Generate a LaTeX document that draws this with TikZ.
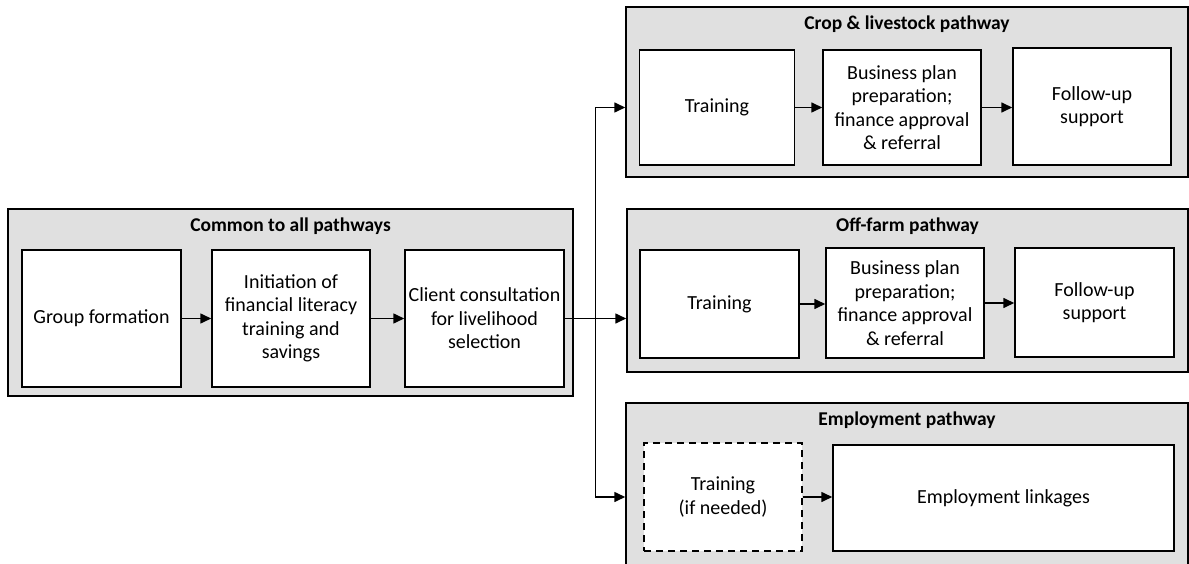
\documentclass[tikz,border=0pt]{standalone}
\usepackage{fontspec}
\setmainfont{Carlito}
\usetikzlibrary{arrows.meta, positioning, calc}

\begin{document}
\begin{tikzpicture}[x=1pt, y=-1pt,
    pathway/.style={draw, line width=1.5pt, fill=black!12, inner sep=0pt},
    stage/.style={draw, line width=1.5pt, fill=white, align=center, inner sep=1pt, font=\fontsize{20}{23.5}\selectfont},
    optional/.style={stage, dash pattern=on 7pt off 5pt},
    heading/.style={font=\fontsize{19.5}{23.5}\selectfont\bfseries},
    arrow/.style={-{Triangle[length=11pt,width=10pt]}, line width=1.6pt}
]
    \useasboundingbox (0,0) rectangle (1189,564);
    \clip (0,0) rectangle (1189,564);

    % Common to all pathways
    \node[pathway, minimum width=565pt, minimum height=187pt] (common) at (290.5,302.5) {};
    \node[heading, below=6pt of common.north] {Common to all pathways};
    \node[stage, minimum width=159pt, minimum height=137pt] (form) at (101.5,318.5) {Group formation};
    \node[stage, minimum width=158pt, minimum height=137pt] (init) at (291,318.5) {Initiation of\\financial literacy\\training and\\savings};
    \node[stage, minimum width=159pt, minimum height=137pt] (client) at (484.5,318.5) {Client consultation\\for livelihood\\selection};

    % Crop & livestock pathway
    \node[pathway, minimum width=562pt, minimum height=170pt] (crop) at (907,92) {};
    \node[heading, below=6pt of crop.north] {Crop \& livestock pathway};
    \node[stage, minimum width=155pt, minimum height=115pt] (crtrain) at (717,107.5) {Training};
    \node[stage, minimum width=158pt, minimum height=115pt] (crplan) at (902,107.5) {Business plan\\preparation;\\finance approval\\\& referral};
    \node[stage, minimum width=158pt, minimum height=117pt] (crfollow) at (1092,106.5) {Follow-up\\support};

    % Off-farm pathway
    \node[pathway, minimum width=561pt, minimum height=163pt] (off) at (907.5,290.5) {};
    \node[heading, below=6pt of off.north] {Off-farm pathway};
    \node[stage, minimum width=159pt, minimum height=108pt] (oftrain) at (719.5,304) {Training};
    \node[stage, minimum width=158pt, minimum height=110pt] (ofplan) at (905,303) {Business plan\\preparation;\\finance approval\\\& referral};
    \node[stage, minimum width=159pt, minimum height=109pt] (offollow) at (1094.5,302.5) {Follow-up\\support};

    % Employment pathway
    \node[pathway, minimum width=562pt, minimum height=180pt] (emp) at (907,493) {};
    \node[heading, below=6pt of emp.north] {Employment pathway};
    \node[optional, minimum width=158pt, minimum height=108pt] (emtrain) at (723,497) {Training\\(if needed)};
    \node[stage, minimum width=341pt, minimum height=106pt] (emlink) at (1003.5,498) {Employment linkages};

    % Arrows
    \draw[arrow] (form) -- (init);
    \draw[arrow] (init) -- (client);
    \draw[arrow] (crtrain) -- (crplan);
    \draw[arrow] (crplan.east) -- (crplan.east -| crfollow.west);
    \draw[arrow] (oftrain.east) -- (oftrain.east -| ofplan.west);
    \draw[arrow] (ofplan.east) -- (ofplan.east -| offollow.west);
    \draw[arrow] (emtrain.east) -- (emtrain.east -| emlink.west);

    % Branching to the pathways
    \coordinate (split) at ($(client.east)!0.5!(client.east -| off.west)$);
    \draw[arrow] (client.east) -- (client.east -| off.west);
    \draw[arrow] (split) |- (crtrain.west -| crop.west);
    \draw[arrow] (split) |- (emtrain.west -| emp.west);
\end{tikzpicture}
\end{document}
